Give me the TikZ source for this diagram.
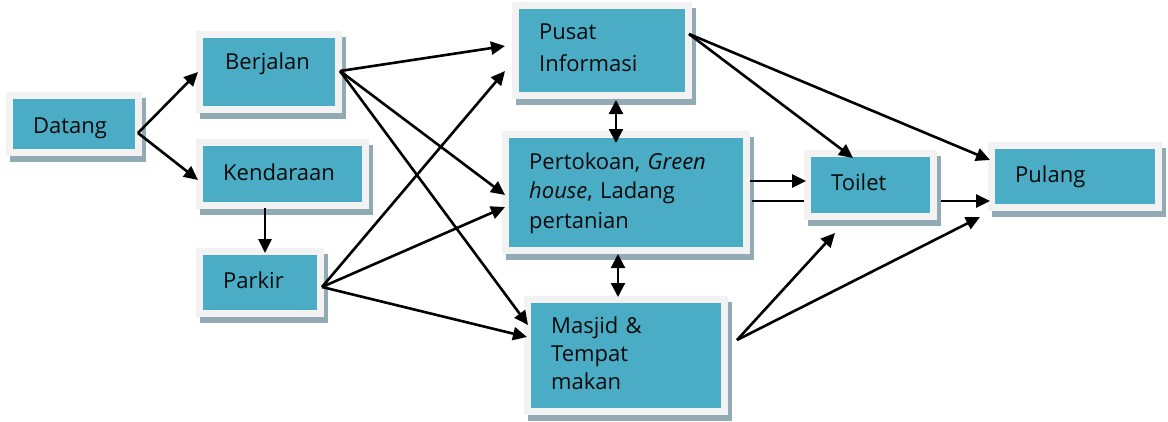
\documentclass[tikz,border=0pt]{standalone}
\usepackage{fontspec}
\setmainfont{Open Sans}
\usetikzlibrary{arrows.meta}
\definecolor{tealc}{HTML}{4AACC5}
\definecolor{framec}{HTML}{F2F2F2}
\definecolor{shadowc}{HTML}{92AAB4}
\definecolor{inkc}{HTML}{0A0A0A}
\begin{document}
\begin{tikzpicture}[x=1pt,y=-1pt,
  box/.style={rectangle, fill=tealc, draw=framec, line width=7pt, inner sep=0pt,
    preaction={fill=shadowc, draw=shadowc, line width=7pt, transform canvas={shift={(4pt,-6pt)}}}},
  lbl/.style={inner sep=0pt, anchor=base west, text width=230pt, align=left,
    font=\fontsize{22}{29.5}\selectfont, text=inkc},
  arr/.style={draw=black, line width=2.6pt, -{Triangle[length=14pt,width=13pt]}},
  darr/.style={draw=black, line width=2.2pt, {Triangle[length=14pt,width=14pt]}-{Triangle[length=14pt,width=14pt]}}]
\useasboundingbox (0,0) rectangle (1168,421);

% boxes
\node[box, minimum width=129pt, minimum height=57pt] (datang) at (74,124) {};
\node[box, minimum width=139pt, minimum height=75pt] (berjalan) at (269,72) {};
\node[box, minimum width=166pt, minimum height=63pt] (kendaraan) at (282.5,174) {};
\node[box, minimum width=121pt, minimum height=62pt] (parkir) at (260,282.5) {};
\node[box, minimum width=173pt, minimum height=90pt] (pusat) at (602,50.5) {};
\node[box, minimum width=241pt, minimum height=116pt] (pertokoan) at (626,192.5) {};
\node[box, minimum width=197pt, minimum height=112pt] (masjid) at (626,355.5) {};
\node[box, minimum width=167pt, minimum height=62pt] (pulang) at (1075,176.5) {};

% line passing behind Toilet
\draw[arr] ([shift={(2,8.5)}]pertokoan.east) -- ([shift={(2,24.5)}]pulang.west);

\node[box, minimum width=126pt, minimum height=63pt] (toilet) at (870.5,185) {};

% labels
\node[lbl] (datangT) at ([shift={(27,41)}]datang.north west) {Datang};
\node[lbl] (berjalanT) at ([shift={(29,38)}]berjalan.north west) {Berjalan};
\node[lbl] (kendaraanT) at ([shift={(27,41)}]kendaraan.north west) {Kendaraan};
\node[lbl] (parkirT) at ([shift={(27,40)}]parkir.north west) {Parkir};
\node[lbl, font=\fontsize{22}{32}\selectfont] (pusatT) at ([shift={(27,37)}]pusat.north west) {Pusat\\Informasi};
\node[lbl] (pertokoanT) at ([shift={(27,38)}]pertokoan.north west) {Pertokoan, \textit{Green}\\\textit{house}, Ladang\\pertanian};
\node[lbl, font=\fontsize{22}{28}\selectfont] (masjidT) at ([shift={(27,37)}]masjid.north west) {Masjid \&\\Tempat\\makan};
\node[lbl] (toiletT) at ([shift={(27,40)}]toilet.north west) {Toilet};
\node[lbl] (pulangT) at ([shift={(27,40)}]pulang.north west) {Pulang};

% connectors
\draw[arr] ([shift={(-4,9)}]datang.east) -- ([shift={(2,0)}]berjalan.west);
\draw[arr] ([shift={(-4,9)}]datang.east) -- ([shift={(2,6)}]kendaraan.west);
\draw[arr] ([shift={(-17.5,-1)}]kendaraan.south) -- ([shift={(5,5)}]parkir.north);

\draw[arr] ([shift={(-2,-1)}]berjalan.east) -- ([shift={(-7,-4.5)}]pusat.west);
\draw[arr] ([shift={(-2,-1)}]berjalan.east) -- ([shift={(3,2.5)}]pertokoan.west);
\draw[arr] ([shift={(-2,-1)}]berjalan.east) -- ([shift={(4,-30.5)}]masjid.west);

\draw[arr] ([shift={(-2,4.5)}]parkir.east) -- ([shift={(-7,20.5)}]pusat.west);
\draw[arr] ([shift={(-2,4.5)}]parkir.east) -- ([shift={(3,14.5)}]pertokoan.west);
\draw[arr] ([shift={(-2,4.5)}]parkir.east) -- ([shift={(3,-18.5)}]masjid.west);

\draw[darr] ([shift={(14,1)}]pusat.south) -- ([shift={(-10,12)}]pertokoan.north);
\draw[darr] ([shift={(-8,0)}]pertokoan.south) -- ([shift={(-8,1)}]masjid.north);

\draw[arr] ([shift={(0,-11.5)}]pertokoan.east) -- ([shift={(2,-4)}]toilet.west);

\draw[arr] ([shift={(-3,-16.5)}]pusat.east) -- ([shift={(-17.5,8)}]toilet.north);
\draw[arr] ([shift={(-3,-16.5)}]pusat.east) -- ([shift={(2,-16.5)}]pulang.west);

\draw[arr] ([shift={(9,-15.5)}]masjid.east) -- ([shift={(-35.5,13)}]toilet.south);
\draw[arr] ([shift={(9,-15.5)}]masjid.east) -- ([shift={(-8,40.5)}]pulang.west);
\end{tikzpicture}
\end{document}
